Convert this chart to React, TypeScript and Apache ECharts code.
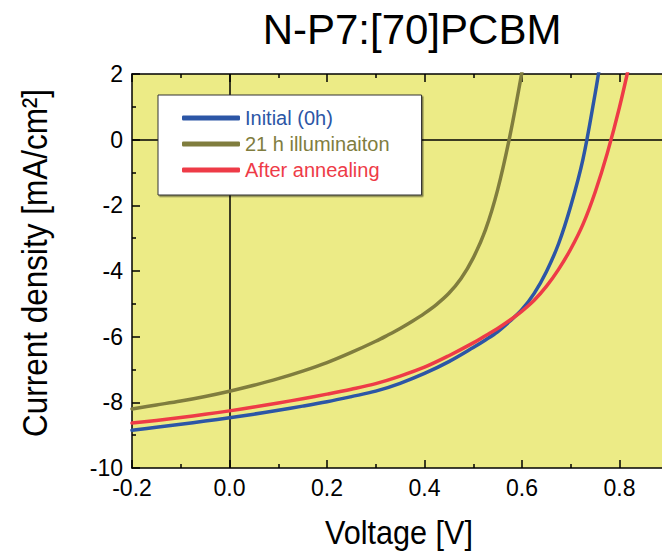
import React, { useEffect, useRef } from "react";
import * as echarts from "echarts";

const chartTitle = "N-P7:[70]PCBM";
const xTitle = "Voltage [V]";
const yTitle = "Current density [mA/cm²]";
const seriesNames = ["Initial (0h)", "21 h illuminaiton", "After annealing"];
const seriesColors = ["#2C56A6", "#807D3E", "#EE3B47"];

const voltageInitial = [-0.2, -0.15, -0.1, -0.05, 0, 0.05, 0.1, 0.15, 0.2, 0.25, 0.3, 0.35, 0.4, 0.45, 0.5, 0.525, 0.55, 0.575, 0.6, 0.625, 0.65, 0.675, 0.7, 0.725, 0.75, 0.76];
const currentInitial = [-8.85, -8.76, -8.67, -8.57, -8.47, -8.36, -8.24, -8.115, -7.98, -7.825, -7.66, -7.42, -7.12, -6.76, -6.33, -6.1, -5.85, -5.53, -5.17, -4.68, -4.02, -3.17, -2.02, -0.6, 1.4, 2.3];

const voltageIllum = [-0.2, -0.15, -0.1, -0.05, 0, 0.05, 0.1, 0.15, 0.2, 0.25, 0.3, 0.325, 0.35, 0.375, 0.4, 0.425, 0.45, 0.475, 0.5, 0.525, 0.55, 0.575, 0.6];
const currentIllum = [-8.2, -8.08, -7.96, -7.82, -7.66, -7.48, -7.28, -7.05, -6.79, -6.48, -6.14, -5.95, -5.75, -5.53, -5.29, -5.015, -4.68, -4.23, -3.6, -2.75, -1.53, 0.1, 2.07];

const voltageAnneal = [-0.2, -0.15, -0.1, -0.05, 0, 0.05, 0.1, 0.15, 0.2, 0.25, 0.3, 0.35, 0.4, 0.45, 0.5, 0.525, 0.55, 0.575, 0.6, 0.625, 0.65, 0.675, 0.7, 0.725, 0.75, 0.775, 0.8, 0.825];
const currentAnneal = [-8.63, -8.55, -8.46, -8.365, -8.26, -8.145, -8.02, -7.89, -7.75, -7.6, -7.43, -7.2, -6.93, -6.58, -6.19, -5.97, -5.75, -5.5, -5.22, -4.89, -4.47, -3.95, -3.33, -2.58, -1.6, -0.41, 0.99, 2.62];

const FONT = "'Liberation Sans', Arial, Helvetica, sans-serif";

function pairs(xs: number[], ys: number[]) {
  return xs.map((x, i) => [x, ys[i]]);
}

export default function App() {
  const ref = useRef<HTMLDivElement>(null);
  useEffect(() => {
    if (!ref.current) return;
    const chart = echarts.init(ref.current, null, { renderer: "svg" });
    const axisCommon = {
      type: "value" as const,
      min: -0.2,
      max: 1.0,
      interval: 0.2,
      splitLine: { show: false },
      axisLine: { show: true, onZero: false, lineStyle: { color: "#000", width: 1.5 } },
      axisTick: { show: true, inside: true, length: 8, lineStyle: { color: "#000", width: 1.5 } },
      minorTick: { show: true, splitNumber: 2, length: 4, lineStyle: { color: "#000", width: 1.5 } },
    };
    const lineSeries = (idx: number, data: number[][]) => ({
      type: "line",
      name: seriesNames[idx],
      data,
      symbol: "none",
      showSymbol: false,
      smooth: 0.35,
      clip: true,
      z: 3,
      color: seriesColors[idx],
      lineStyle: { color: seriesColors[idx], width: 3.5, cap: "round", join: "round" },
    });
    chart.setOption({
      animation: false,
      title: {
        text: chartTitle,
        left: 412,
        top: 29,
        padding: 0,
        textAlign: "center",
        textVerticalAlign: "middle",
        textStyle: { fontFamily: FONT, fontSize: 42, fontWeight: "normal", color: "#000" },
      },
      grid: {
        left: 132,
        top: 74,
        width: 585,
        height: 394,
        show: true,
        backgroundColor: "#ECEB86",
        borderWidth: 0,
      },
      legend: {
        orient: "vertical",
        left: 158,
        top: 95,
        padding: [13, 32, 15, 24],
        icon: "roundRect",
        itemWidth: 58,
        itemHeight: 5,
        itemGap: 6,
        backgroundColor: "#fff",
        borderColor: "#333",
        borderWidth: 1,
        shadowColor: "rgba(0,0,0,0.45)",
        shadowOffsetX: 1.5,
        shadowOffsetY: 1.5,
        shadowBlur: 0,
        textStyle: { fontFamily: FONT, fontSize: 20, lineHeight: 20 },
        data: seriesNames.map((n, i) => ({ name: n, textStyle: { color: seriesColors[i] } })),
      },
      xAxis: [
        {
          ...axisCommon,
          position: "bottom",
          axisLabel: {
            show: true,
            showMaxLabel: false,
            margin: 8,
            color: "#000",
            fontFamily: FONT,
            fontSize: 23,
            formatter: (v: number) => (v > 0.85 ? "" : v.toFixed(1)),
          },
        },
        {
          ...axisCommon,
          position: "top",
          axisLabel: { show: false },
        },
      ],
      yAxis: {
        type: "value",
        min: -10,
        max: 2,
        interval: 2,
        splitLine: { show: false },
        axisLine: { show: true, onZero: false, lineStyle: { color: "#000", width: 1.5 } },
        axisTick: { show: true, inside: true, length: 8, lineStyle: { color: "#000", width: 1.5 } },
        minorTick: { show: true, splitNumber: 2, length: 4, lineStyle: { color: "#000", width: 1.5 } },
        axisLabel: { margin: 9, color: "#000", fontFamily: FONT, fontSize: 23 },
      },
      graphic: [
        {
          type: "text",
          x: 399,
          y: 532,
          scaleX: 0.9,
          style: {
            text: xTitle,
            fontFamily: FONT,
            fontSize: 34,
            fill: "#000",
            align: "center",
            verticalAlign: "middle",
          },
        },
        {
          type: "text",
          x: 35,
          y: 263,
          rotation: Math.PI / 2,
          scaleX: 0.9,
          style: {
            text: yTitle,
            fontFamily: FONT,
            fontSize: 35,
            fill: "#000",
            align: "center",
            verticalAlign: "middle",
          },
        },
      ],
      series: [
        {
          type: "line",
          name: "zero-lines",
          data: [],
          silent: true,
          z: 1,
          markLine: {
            silent: true,
            z: 1,
            symbol: ["none", "none"],
            label: { show: false },
            lineStyle: { color: "#000", width: 1.5, type: "solid" },
            emphasis: { disabled: true },
            data: [{ xAxis: 0 }, { yAxis: 0 }],
          },
        },
        lineSeries(0, pairs(voltageInitial, currentInitial)),
        lineSeries(1, pairs(voltageIllum, currentIllum)),
        lineSeries(2, pairs(voltageAnneal, currentAnneal)),
      ],
    });
    return () => chart.dispose();
  }, []);
  return (
    <div
      style={{
        position: "fixed",
        left: 0,
        top: 0,
        width: 662,
        height: 551,
        overflow: "hidden",
        background: "#fff",
      }}
    >
      <div ref={ref} style={{ width: 770, height: 551 }} />
    </div>
  );
}
